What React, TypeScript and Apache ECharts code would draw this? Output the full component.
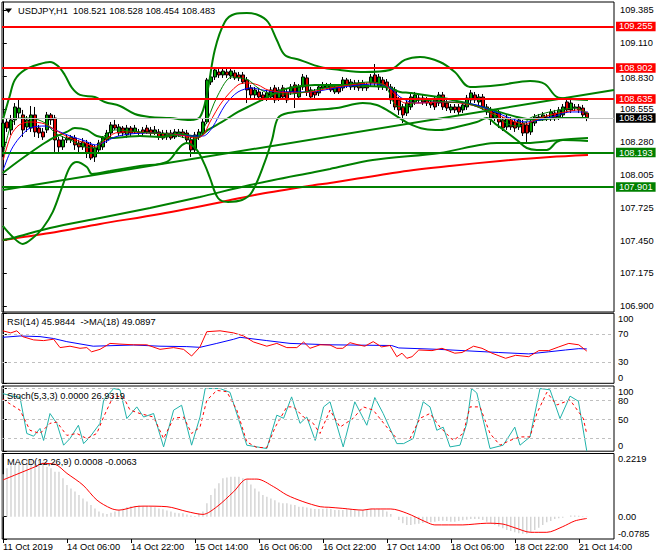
import { useEffect, useRef } from 'react';
import * as echarts from 'echarts';

const FONT = 'Tahoma, "Liberation Sans", Arial, sans-serif';
const FS = 9.3;

const titleMain = 'USDJPY,H1  108.521 108.528 108.454 108.483';
const titleRsi = 'RSI(14) 45.9844  ->MA(18) 49.0897';
const titleStoch = 'Stoch(5,3,3) 0.0000 26.9319';
const titleMacd = 'MACD(12,26,9) 0.0008 -0.0063';

const xTickIndex = [0, 16, 32, 48, 64, 80, 96, 112, 128, 144];
const xTickLabels = ['11 Oct 2019', '14 Oct 06:00', '14 Oct 22:00', '15 Oct 14:00', '16 Oct 06:00', '16 Oct 22:00', '17 Oct 14:00', '18 Oct 06:00', '18 Oct 22:00', '21 Oct 14:00'];
const priceTicks = [109.385, 109.11, 108.83, 108.555, 108.28, 108.005, 107.725, 107.45, 107.175, 106.9];
const redLevels = [109.255, 108.902, 108.635];
const greenLevels = [108.193, 107.901];
const bidPrice = 108.483;
const rsiTicks = [0, 30, 70, 100];
const rsiLevels = [30, 70];
const stochTicks = [0, 20, 50, 80, 100];
const stochLabelTicks = [0, 20, 50, 80];
const stochTopLabel = '100';
const stochLevels = [20, 50, 80, 100];
const macdTicks = [-0.0785, 0, 0.2219];

// [open, close, low, high]
const candles = [
[108.237,108.438,108.153,108.480],[108.447,108.396,108.363,108.480],[108.380,108.464,108.338,108.506],[108.464,108.573,108.422,108.606],[108.522,108.564,108.480,108.632],
[108.506,108.380,108.321,108.548],[108.405,108.464,108.363,108.497],[108.396,108.506,108.363,108.581],[108.506,108.363,108.321,108.573],[108.396,108.354,108.312,108.422],
[108.363,108.321,108.296,108.396],[108.380,108.506,108.354,108.531],[108.506,108.464,108.422,108.522],[108.480,108.296,108.195,108.506],[108.296,108.237,108.195,108.321],
[108.237,108.296,108.212,108.329],[108.296,108.312,108.270,108.338],[108.296,108.321,108.270,108.338],[108.312,108.254,108.212,108.338],[108.270,108.237,108.186,108.296],
[108.237,108.279,108.212,108.312],[108.270,108.186,108.144,108.296],[108.254,108.144,108.127,108.279],[108.153,108.228,108.111,108.254],[108.212,108.270,108.186,108.296],
[108.237,108.312,108.212,108.329],[108.296,108.354,108.270,108.380],[108.354,108.422,108.321,108.447],[108.422,108.396,108.380,108.464],[108.354,108.405,108.329,108.430],
[108.396,108.354,108.329,108.413],[108.338,108.396,108.312,108.422],[108.396,108.354,108.329,108.413],[108.363,108.396,108.346,108.422],[108.363,108.354,108.338,108.388],
[108.380,108.354,108.329,108.405],[108.396,108.363,108.346,108.422],[108.380,108.354,108.329,108.405],[108.354,108.380,108.338,108.413],[108.363,108.321,108.296,108.388],
[108.354,108.312,108.296,108.380],[108.321,108.354,108.296,108.380],[108.354,108.312,108.296,108.380],[108.321,108.363,108.304,108.388],[108.338,108.363,108.321,108.388],
[108.363,108.338,108.312,108.388],[108.354,108.296,108.270,108.380],[108.296,108.212,108.153,108.321],[108.212,108.338,108.186,108.363],[108.321,108.363,108.296,108.388],
[108.354,108.447,108.329,108.480],[108.447,108.800,108.430,108.817],[108.783,108.825,108.758,108.884],[108.825,108.884,108.800,108.909],[108.867,108.842,108.817,108.892],
[108.842,108.875,108.817,108.892],[108.867,108.842,108.817,108.892],[108.833,108.875,108.808,108.892],[108.859,108.817,108.800,108.884],[108.842,108.817,108.791,108.867],
[108.842,108.783,108.766,108.867],[108.800,108.716,108.606,108.825],[108.733,108.674,108.632,108.758],[108.674,108.716,108.648,108.741],[108.699,108.657,108.640,108.733],
[108.674,108.648,108.623,108.699],[108.648,108.691,108.623,108.716],[108.657,108.716,108.632,108.741],[108.733,108.632,108.606,108.758],[108.648,108.716,108.623,108.741],
[108.733,108.657,108.632,108.758],[108.699,108.632,108.606,108.724],[108.699,108.741,108.674,108.766],[108.758,108.691,108.564,108.783],[108.657,108.741,108.632,108.766],
[108.741,108.825,108.716,108.850],[108.817,108.699,108.665,108.842],[108.716,108.657,108.632,108.741],[108.699,108.674,108.648,108.724],[108.691,108.741,108.665,108.766],
[108.733,108.758,108.716,108.783],[108.733,108.758,108.724,108.775],[108.758,108.716,108.699,108.775],[108.699,108.741,108.682,108.766],[108.741,108.699,108.682,108.766],
[108.733,108.800,108.708,108.825],[108.800,108.758,108.733,108.817],[108.741,108.783,108.716,108.808],[108.775,108.741,108.716,108.800],[108.775,108.733,108.708,108.800],
[108.733,108.775,108.708,108.800],[108.758,108.733,108.708,108.775],[108.775,108.825,108.749,108.850],[108.842,108.775,108.749,108.934],[108.741,108.825,108.716,108.850],
[108.800,108.741,108.716,108.825],[108.783,108.733,108.708,108.808],[108.741,108.632,108.598,108.766],[108.716,108.573,108.548,108.741],[108.632,108.548,108.506,108.657],
[108.573,108.506,108.438,108.598],[108.522,108.606,108.497,108.632],[108.573,108.657,108.548,108.682],[108.615,108.674,108.590,108.699],[108.632,108.648,108.606,108.674],
[108.648,108.615,108.590,108.674],[108.632,108.606,108.581,108.657],[108.615,108.590,108.564,108.640],[108.632,108.573,108.548,108.657],[108.606,108.674,108.581,108.699],
[108.674,108.573,108.548,108.699],[108.606,108.564,108.539,108.632],[108.548,108.573,108.522,108.598],[108.573,108.548,108.522,108.598],[108.573,108.531,108.506,108.598],
[108.548,108.590,108.522,108.615],[108.573,108.648,108.548,108.674],[108.632,108.691,108.606,108.716],[108.674,108.632,108.606,108.699],[108.615,108.657,108.590,108.682],
[108.657,108.573,108.548,108.682],[108.573,108.531,108.506,108.598],[108.548,108.480,108.422,108.573],[108.480,108.531,108.455,108.556],[108.522,108.447,108.396,108.548],
[108.464,108.396,108.371,108.489],[108.405,108.480,108.380,108.506],[108.464,108.405,108.380,108.489],[108.447,108.396,108.363,108.472],[108.405,108.464,108.380,108.489],
[108.438,108.354,108.329,108.464],[108.422,108.354,108.279,108.447],[108.363,108.447,108.338,108.472],[108.438,108.489,108.413,108.514],[108.480,108.489,108.455,108.514],
[108.480,108.506,108.455,108.531],[108.480,108.489,108.455,108.514],[108.480,108.531,108.455,108.556],[108.522,108.480,108.455,108.548],[108.489,108.548,108.464,108.573],
[108.506,108.573,108.480,108.598],[108.615,108.548,108.522,108.657],[108.548,108.606,108.522,108.632],[108.564,108.573,108.539,108.598],[108.573,108.548,108.522,108.598],
[108.564,108.506,108.480,108.590],[108.521,108.483,108.454,108.528],
];

// indicator lines: [bar index, value]
const bbUpper = [[0,108.464],[1.8,108.674],[3,108.8],[5.5,108.884],[9.3,108.934],[11.8,108.951],[13.8,108.917],[15.5,108.842],[17.3,108.733],[19.3,108.674],[23,108.657],[25.5,108.615],[29.3,108.581],[33,108.514],[36.8,108.489],[41.8,108.48],[46.8,108.464],[49.3,108.489],[51,108.674],[53,109.052],[55.5,109.287],[58,109.354],[61,109.363],[63.8,109.346],[66.3,109.287],[68.5,109.136],[70.5,109.01],[74.3,108.968],[79.3,108.909],[84.3,108.884],[90.5,108.867],[96.8,108.884],[100.5,108.968],[104.3,108.993],[109.3,108.951],[113,108.867],[116.8,108.741],[124.3,108.758],[131.8,108.791],[135.5,108.766],[138.5,108.657],[141.8,108.64],[146.3,108.632]];
const bbMiddle = [[0,108.018],[4.3,108.127],[9.3,108.245],[12.5,108.312],[16,108.363],[18,108.396],[21,108.38],[23.5,108.329],[26.8,108.312],[30.5,108.321],[34.3,108.329],[39.3,108.321],[44.3,108.346],[48.8,108.321],[51.3,108.38],[54.8,108.447],[58.8,108.531],[62.3,108.59],[66.3,108.657],[69.8,108.716],[73,108.741],[78,108.758],[85,108.758],[90.5,108.749],[96,108.741],[99.3,108.699],[101.8,108.691],[110,108.648],[116.8,108.598],[122.5,108.548],[128.5,108.489],[133.5,108.464],[136,108.472],[139.3,108.48],[146.3,108.48]];
const bbLower = [[0,107.573],[2.5,107.48],[5,107.422],[7.5,107.472],[10,107.556],[12.5,107.691],[15,107.917],[16.8,108.069],[18.5,108.111],[21,108.069],[22.3,108.01],[26.8,108.035],[34.3,108.077],[41,108.111],[44.3,108.237],[46,108.27],[48.5,108.212],[50.5,108.086],[51.8,107.976],[53.8,107.808],[56.3,107.775],[59.8,107.791],[62.3,107.859],[65.5,108.111],[67.3,108.296],[68.8,108.48],[71.3,108.522],[78,108.548],[83.5,108.564],[90,108.606],[93.5,108.59],[96.8,108.531],[101.3,108.438],[105.5,108.388],[109.3,108.38],[113.5,108.405],[118.5,108.447],[121,108.48],[123.5,108.422],[128.5,108.296],[131,108.228],[133.5,108.212],[136,108.212],[138.5,108.279],[140,108.296],[146.3,108.287]];
const maGreenSlow = [[0,107.455],[2.5,107.472],[11.8,107.556],[24.3,107.64],[36.8,107.724],[49.3,107.817],[61.8,107.917],[78,108.027],[81.8,108.052],[92.5,108.127],[109.3,108.186],[123.5,108.27],[131,108.27],[139.3,108.296],[146.3,108.312]];
const maRedSlow = [[0,107.455],[11.8,107.514],[24.3,107.59],[39.3,107.674],[54.8,107.775],[64.3,107.842],[78,107.917],[81.8,107.934],[99.3,108.027],[111.8,108.077],[124.3,108.119],[136.8,108.153],[146.3,108.17]];
const trendLine = [[0,107.875],[152.8,108.716]];
const emaFast = [[0.1,108.17],[2.1,108.422],[4.1,108.48],[6.8,108.48],[10.6,108.438],[13.1,108.354],[16.8,108.296],[20.6,108.237],[23.1,108.228],[25.6,108.338],[28.1,108.38],[31.8,108.371],[36.8,108.354],[41.8,108.346],[45.6,108.312],[48.1,108.296],[50.1,108.38],[53.8,108.674],[57.3,108.825],[61.3,108.8],[63.8,108.733],[66.3,108.691],[71.8,108.682],[76.8,108.707],[81.8,108.741],[86.8,108.766],[91.8,108.783],[95.6,108.749],[98.1,108.59],[100.6,108.573],[104.3,108.632],[110.6,108.615],[115.6,108.606],[119.3,108.564],[123.1,108.497],[126.8,108.422],[129.3,108.413],[131.8,108.48],[135.6,108.522],[139.3,108.548],[143.1,108.564],[146.3,108.514]];
const emaMid = [[0.1,108.127],[2.1,108.338],[4.1,108.422],[6.8,108.447],[10.6,108.43],[13.1,108.38],[16.8,108.312],[20.6,108.27],[23.1,108.237],[25.6,108.296],[28.1,108.354],[31.8,108.363],[36.8,108.354],[41.8,108.346],[45.6,108.329],[48.1,108.312],[50.1,108.338],[51.8,108.447],[54.8,108.615],[58.8,108.758],[61.3,108.775],[63.8,108.758],[66.3,108.716],[71.8,108.691],[76.8,108.699],[81.8,108.733],[86.8,108.758],[91.8,108.775],[95.6,108.758],[98.1,108.674],[100.6,108.606],[104.3,108.606],[109.3,108.615],[114.3,108.606],[118.1,108.581],[121.8,108.531],[125.6,108.48],[128.1,108.447],[130.6,108.43],[133.1,108.464],[136.8,108.506],[140.6,108.531],[143.8,108.548],[146.3,108.522]];
const emaSlow = [[0.1,108.044],[2.1,108.212],[4.1,108.312],[6.8,108.396],[10.6,108.413],[13.1,108.38],[16.8,108.329],[20.6,108.287],[23.1,108.254],[25.6,108.279],[28.1,108.321],[31.8,108.346],[36.8,108.354],[41.8,108.346],[46.8,108.329],[50.1,108.329],[52.3,108.396],[55.6,108.59],[58.8,108.699],[62.3,108.733],[64.8,108.716],[69.3,108.699],[76.8,108.699],[81.8,108.724],[86.8,108.749],[93.1,108.766],[96.8,108.733],[99.3,108.657],[103.1,108.606],[109.3,108.615],[115.6,108.606],[119.3,108.581],[123.1,108.531],[126.8,108.48],[130.6,108.447],[134.3,108.464],[138.1,108.497],[141.8,108.531],[146.3,108.531]];

const rsi = [[0,75],[2,72],[3.5,75],[5,66.6],[7.7,62],[10.2,61],[12.7,63],[14.3,51],[16.8,53],[19.3,50],[21,51],[22.2,45],[24.3,48.5],[26.8,57],[29.3,56],[32.7,55],[36,55],[39.3,48.5],[42.7,51],[45.2,48.5],[47.2,39],[49.3,52],[51,73.7],[54.3,75],[57.7,72],[60.2,67.6],[62.7,59],[66,53],[68.5,57],[71,51],[73.5,51],[75.2,59],[76.8,50],[79.3,55],[81.8,54.7],[83.5,50],[85,50],[86.8,58],[88.8,55],[90.5,53],[92.6,59.5],[94.7,52],[96.8,54],[98.5,38],[99.8,43],[101,35.7],[102.3,38],[104,47.6],[107.3,46.7],[109.8,50],[113,43],[114.8,44],[117.7,53],[119.8,50],[122.3,43],[125.7,35.7],[128.2,40],[131.5,38],[134,46.7],[136.5,46.7],[139,52],[141.5,57],[144,55],[146,46]];
const rsiMa = [[0,65.7],[4.3,67.6],[9.3,66.7],[12.7,64],[16,59.5],[22.6,53],[32.7,54.7],[39.3,53],[46,52.4],[49.3,51.4],[53.5,57],[57.7,62.9],[59.3,65.7],[66,61],[71.8,57],[81.8,55],[97.2,54],[99,50.5],[109,48.5],[115.7,46.5],[124,44],[131.5,42],[136.5,45],[140.7,47.6],[144,49.5],[146,49.1]];
const stochMain = [[0,91],[1.8,88],[4.3,85],[6,28],[7.7,23.7],[9.3,36],[10.2,17],[11.8,59.5],[13.5,44],[15.2,9.5],[16.8,20],[18.9,41],[20.2,12],[21.8,22.6],[24.3,44],[25.2,80.5],[27.7,99],[29.3,97],[31,51.6],[33.5,70],[35.2,54],[37.7,59.5],[40.2,6.8],[42.7,64.8],[44.7,72.6],[47.2,9.5],[49.3,54],[50.6,99],[54.3,99],[56.8,93],[61,9.5],[66,4.2],[68.5,56.9],[70.2,52],[72.2,85.8],[74.3,44],[76,54],[78.1,17],[80.2,70],[81.8,78],[85.1,6.8],[88,78],[91,41],[93,84.8],[95.1,59.5],[98.5,12],[100.2,12],[102.6,20],[105.1,78],[106.8,70],[108.5,33],[110.1,38],[111.8,6.8],[114.3,9.5],[116,44],[117.2,99],[118.5,92],[121.8,4.2],[125.1,9.5],[128,38],[129.3,9.5],[131.8,22.6],[134.3,99],[136.8,97],[139.3,51.6],[141.8,87],[143.9,79],[146,0]];
const stochSignal = [[0,82],[4.3,64.8],[6.8,33],[9.3,28],[11.8,44],[13.5,46],[16,25],[18.5,28],[21,20],[23.5,28],[25.2,54],[27.7,88],[30.2,85],[31.8,65],[34.3,59.5],[37.7,54],[40.2,20],[42.7,52],[45.2,54],[47.2,28],[49.3,38],[51,80.5],[53.5,96],[56,94],[58.5,65],[61,14.7],[63.5,5.8],[66,5.8],[68.1,38],[71,70],[72.7,70],[75.2,54],[77.6,44],[79.3,28],[81.8,65],[84.3,38],[87.6,52],[90.1,70],[92.6,65],[96,38],[98.5,20],[101.8,20],[104.3,52],[106.8,59.5],[109.3,38],[112.6,17],[115.1,28],[116.8,70],[119.3,70],[121.8,28],[124.3,9.5],[126.8,17],[129.3,22.6],[131.8,22.6],[133.5,59.5],[136,93],[138.5,73],[141.8,81],[145.1,52],[146,27]];
const macdHist = [
0.149,0.170,0.181,0.187,0.191,0.199,0.202,0.199,0.195,0.199,
0.193,0.175,0.170,0.158,0.158,0.135,0.111,0.099,0.088,0.076,
0.064,0.053,0.041,0.029,0.018,0.012,0.009,0.014,0.018,0.023,
0.029,0.034,0.037,0.037,0.039,0.037,0.037,0.035,0.033,0.029,
0.026,0.022,0.018,0.014,0.012,0.012,0.008,0.004,0.002,0.012,
0.018,0.047,0.076,0.099,0.117,0.135,0.138,0.140,0.140,0.140,
0.135,0.129,0.113,0.099,0.088,0.076,0.070,0.064,0.058,0.050,
0.047,0.047,0.043,0.041,0.035,0.035,0.032,0.029,0.027,0.027,
0.027,0.029,0.027,0.023,0.023,0.023,0.026,0.026,0.023,0.022,
0.023,0.026,0.027,0.027,0.026,0.023,0.018,0.009,0.000,-0.012,
-0.023,-0.029,-0.029,-0.027,-0.025,-0.022,-0.020,-0.020,-0.018,-0.015,
-0.014,-0.015,-0.018,-0.018,-0.015,-0.013,-0.011,-0.008,-0.008,-0.008,
-0.012,-0.018,-0.026,-0.029,-0.035,-0.041,-0.047,-0.050,-0.055,-0.058,
-0.060,-0.060,-0.055,-0.047,-0.039,-0.029,-0.020,-0.015,-0.008,-0.006,
-0.004,0.000,0.004,0.004,0.003,0.001,0.0008];
const macdSignal = [[0,0.129],[4,0.152],[8,0.175],[10,0.187],[13,0.184],[16,0.152],[20,0.111],[23.5,0.058],[27,0.029],[29,0.023],[33,0.035],[35,0.037],[41,0.035],[46,0.018],[50,0.008],[53.5,0.035],[57.7,0.088],[61,0.132],[63.5,0.132],[67.7,0.105],[71,0.076],[75,0.053],[79.3,0.035],[81.5,0.033],[85,0.029],[90,0.023],[92,0.027],[97,0.027],[101,0.012],[106,-0.02],[108,-0.029],[115,-0.029],[118,-0.026],[121,-0.023],[125,-0.026],[128,-0.039],[132,-0.055],[136,-0.055],[140,-0.035],[143,-0.015],[146,-0.0063]];

const X_MIN = -0.2;
const X_MAX = 152.8;
const GREEN = '#008000';
const RED = '#ff0000';

const txt = { color: '#000', fontSize: FS, fontFamily: FONT };
const edgeRich = {
  d: { ...txt, padding: [11, 0, 0, 0] },
  u: { ...txt, padding: [0, 0, 11, 0] },
  s: { ...txt, padding: [3, 0, 0, 0] },
};

function lineSeries(data: number[][], color: string, width: number, gi: number, extra: any = {}) {
  return {
    type: 'line', xAxisIndex: gi, yAxisIndex: gi, data, showSymbol: false, symbol: 'none',
    lineStyle: { color, width }, silent: true, ...extra,
  };
}

function levelLines(levels: number[], color: string) {
  return levels.map((v) => ({ yAxis: v, lineStyle: { color, width: 1, type: [3, 3] }, label: { show: false } }));
}

function tag(v: number, bg: string, lineColor: string, width: number) {
  return {
    yAxis: v,
    lineStyle: { color: lineColor, width, type: 'solid' },
    label: {
      show: true, position: 'end', distance: 2, formatter: v.toFixed(3),
      color: '#fff', backgroundColor: bg, padding: [0.5, 3, 0, 3], fontSize: FS, fontFamily: FONT, lineHeight: 9,
    },
  };
}

// a price label sitting right under a tag is nudged down a little, as in the original
function priceLabel(v: number) {
  const s = v.toFixed(3);
  return Math.abs(v - 108.83) < 1e-6 ? `{s|${s}}` : s;
}

function buildOption() {
  const grid = (top: number, height: number) => ({
    left: 2, right: 46, top, height, show: true, borderColor: '#000', borderWidth: 1, backgroundColor: 'transparent',
  });
  const hiddenX = (g: number) => ({ type: 'value', gridIndex: g, min: X_MIN, max: X_MAX, show: false, axisLine: { onZero: false } });
  const rightY = (g: number, min: number, max: number, ticks: number[], labels: number[], fmt: (v: number) => string, margin = 6) => ({
    type: 'value', gridIndex: g, position: 'right', min, max, scale: true,
    splitLine: { show: false },
    axisLine: { show: true, lineStyle: { color: '#000', width: 1 } },
    axisTick: { show: true, customValues: ticks, length: 4, lineStyle: { color: '#000' } },
    axisLabel: {
      show: true, customValues: labels, formatter: fmt, margin, ...txt, lineHeight: 8, rich: edgeRich,
      showMinLabel: true, showMaxLabel: true, hideOverlap: false,
    },
  });

  return {
    animation: false,
    backgroundColor: '#fff',
    textStyle: { fontFamily: FONT },
    grid: [grid(2, 310), grid(313.3, 70), grid(386, 65.2), grid(453.5, 85.5)],
    xAxis: [
      hiddenX(0), hiddenX(1), hiddenX(2),
      {
        type: 'value', gridIndex: 3, min: X_MIN, max: X_MAX, position: 'bottom',
        axisLine: { show: false, onZero: false }, splitLine: { show: false },
        axisTick: { show: true, customValues: xTickIndex, length: 4, lineStyle: { color: '#000' } },
        axisLabel: {
          show: true, customValues: xTickIndex, align: 'left', margin: 3, ...txt,
          showMinLabel: true, showMaxLabel: true, hideOverlap: false,
          formatter: (v: number) => xTickLabels[xTickIndex.indexOf(Math.round(v))] ?? '',
        },
      },
    ],
    yAxis: [
      rightY(0, 106.85, 109.455, priceTicks, priceTicks, priceLabel),
      rightY(1, 0, 100, rsiTicks, rsiTicks, (v) => (v === 100 ? '{d|100}' : v === 0 ? '{u|0}' : String(v)), 4),
      rightY(2, 0, 103, stochTicks, stochLabelTicks, (v) => (v === 0 ? '{u|0}' : String(v)), 4),
      rightY(3, -0.0785, 0.2219, macdTicks, macdTicks, (v) => (v > 0.2 ? '{d|0.2219}' : v < -0.05 ? '{u|-0.0785}' : '0.00'), 4),
    ],
    graphic: [
      { type: 'polygon', shape: { points: [[5, 8.5], [12, 8.5], [8.5, 13]] }, style: { fill: '#000' }, z: 100, silent: true },
      { type: 'text', x: 18, y: 11, z: 100, silent: true, style: { text: titleMain, fill: '#000', font: `${FS}px ${FONT}`, verticalAlign: 'middle' } },
      { type: 'text', x: 7, y: 321.5, z: 100, silent: true, style: { text: titleRsi, fill: '#000', font: `${FS}px ${FONT}`, verticalAlign: 'middle' } },
      { type: 'text', x: 7, y: 396, z: 100, silent: true, style: { text: titleStoch, fill: '#000', font: `${FS}px ${FONT}`, verticalAlign: 'middle' } },
      { type: 'text', x: 7, y: 462, z: 100, silent: true, style: { text: titleMacd, fill: '#000', font: `${FS}px ${FONT}`, verticalAlign: 'middle' } },
      { type: 'text', x: 618, y: 391.5, z: 100, silent: true, style: { text: stochTopLabel, fill: '#000', font: `${FS}px ${FONT}`, verticalAlign: 'middle' } },
    ],
    series: [
      {
        type: 'line', xAxisIndex: 0, yAxisIndex: 0, data: [], silent: true,
        markLine: { silent: true, symbol: ['none', 'none'], animation: false, data: [tag(bidPrice, '#000', '#c0c0c0', 1)] },
      },
      {
        type: 'candlestick', xAxisIndex: 0, yAxisIndex: 0, silent: true,
        data: candles.map((c, i) => [i, c[0], c[1], c[2], c[3]]),
        barWidth: 3,
        itemStyle: { color: '#00a000', color0: '#e00000', borderColor: '#000', borderColor0: '#000', borderWidth: 1 },
      },
      lineSeries(maRedSlow, RED, 2, 0, { smooth: 0.3 }),
      lineSeries(maGreenSlow, GREEN, 2, 0, { smooth: 0.3 }),
      lineSeries(bbUpper, GREEN, 2, 0, { smooth: 0.35 }),
      lineSeries(bbMiddle, GREEN, 2, 0, { smooth: 0.35 }),
      lineSeries(bbLower, GREEN, 2, 0, { smooth: 0.35 }),
      lineSeries(emaSlow, '#0000ff', 1, 0, { smooth: 0.3 }),
      lineSeries(emaMid, RED, 1, 0, { smooth: 0.3 }),
      lineSeries(emaFast, GREEN, 1, 0, { smooth: 0.3 }),
      lineSeries(trendLine, GREEN, 2, 0, {
        markLine: {
          silent: true, symbol: ['none', 'none'], animation: false,
          data: [
            ...redLevels.map((v) => tag(v, RED, RED, 2)),
            ...greenLevels.map((v) => tag(v, GREEN, GREEN, 2)),
          ],
        },
      }),
      lineSeries(rsiMa, '#0000ff', 1, 1, {
        markLine: { silent: true, symbol: ['none', 'none'], animation: false, data: levelLines(rsiLevels, '#c0c0c0') },
      }),
      lineSeries(rsi, RED, 1, 1),
      lineSeries(stochMain, '#20b2aa', 1, 2, {
        markLine: { silent: true, symbol: ['none', 'none'], animation: false, data: levelLines(stochLevels, '#c0c0c0') },
      }),
      lineSeries(stochSignal, RED, 1, 2, { lineStyle: { color: RED, width: 1, type: [3, 3] } }),
      {
        type: 'bar', xAxisIndex: 3, yAxisIndex: 3, silent: true, barWidth: 1,
        data: macdHist.map((v, i) => [i, v]), itemStyle: { color: '#c0c0c0' },
      },
      lineSeries(macdSignal, RED, 1, 3, { smooth: 0.3 }),
    ],
  };
}

export default function App() {
  const ref = useRef<HTMLDivElement>(null);
  useEffect(() => {
    const chart = echarts.init(ref.current!, null, { renderer: 'svg' });
    chart.setOption(buildOption() as any);
    return () => chart.dispose();
  }, []);
  return (
    <div
      ref={ref}
      style={{ position: 'fixed', left: 0, top: 0, width: 660, height: 560, background: '#fff' }}
    />
  );
}
